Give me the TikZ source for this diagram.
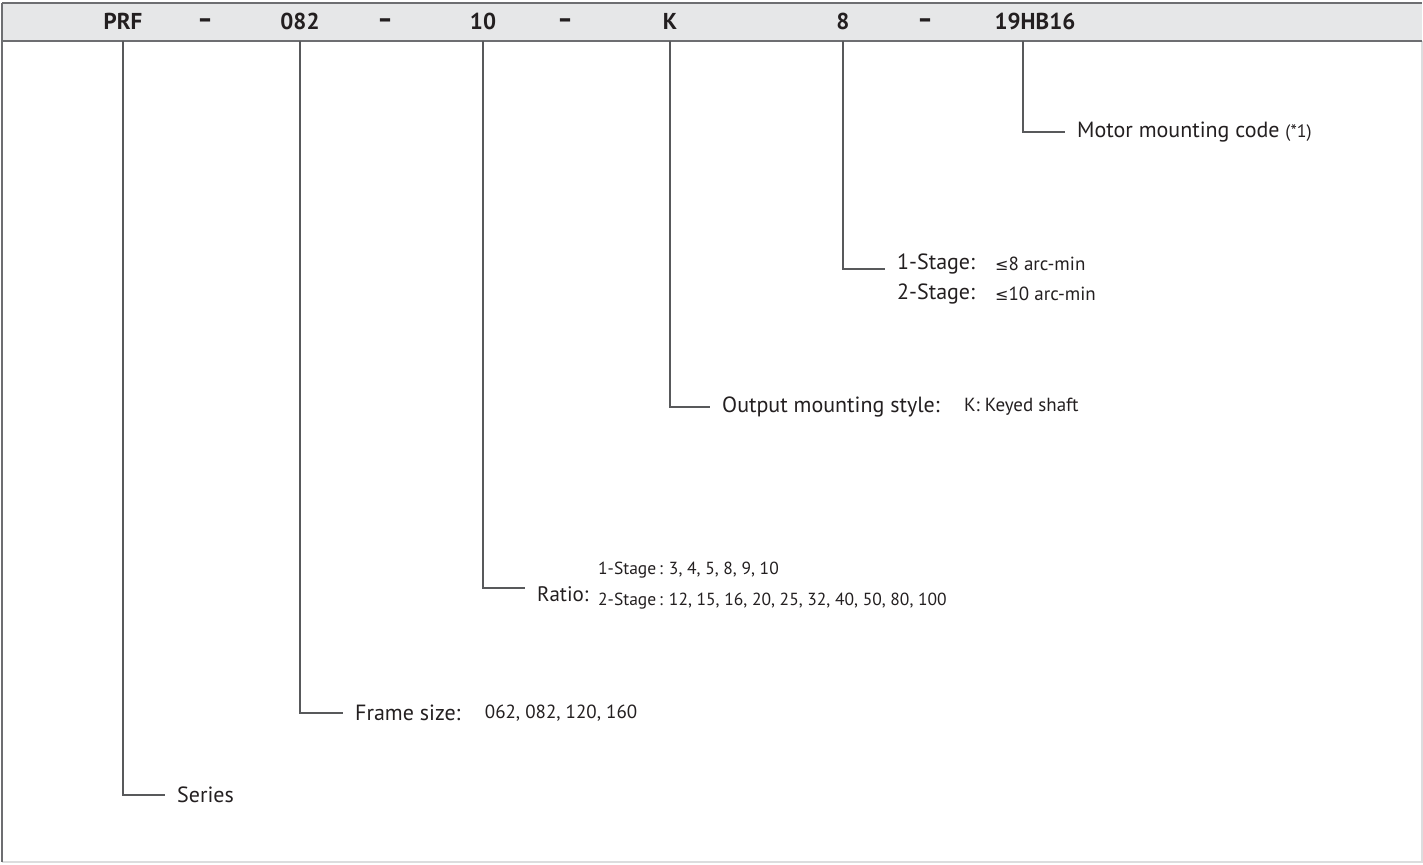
\documentclass[tikz,border=0pt]{standalone}
\usepackage{fontspec}
\setmainfont{PT Sans}
\newfontfamily\symfont{DejaVu Sans}
\usetikzlibrary{positioning}
\definecolor{bandgray}{HTML}{E6E7E8}
\definecolor{rulegray}{HTML}{6D6E71}
\definecolor{leadgray}{HTML}{58595B}
\definecolor{inkgray}{HTML}{231F20}
\definecolor{edgegray}{HTML}{DCDDDE}

\begin{document}
\begin{tikzpicture} [x=1pt, y=-1pt, text=inkgray,
                    font=\fontsize{22}{26}\selectfont,
                    code/.style={font=\fontsize{23}{27}\selectfont\bfseries, inner sep=0pt},
                    dash sep/.style={code, font=\symfont\fontsize{26}{30}\selectfont\bfseries},
                    lbl/.style={anchor=west, inner xsep=12pt, inner ysep=0pt},
                    val/.style={anchor=west, inner sep=0pt, font=\fontsize{19}{22}\selectfont},
                    lead/.style={draw=leadgray, line width=1.2pt}]

\useasboundingbox (0,0) rectangle (1423,864);

% frame and header band
\fill[bandgray] (2,3) rectangle (1422,41);
\draw[edgegray, line width=1.5pt] (1422,41) -- (1422,862) -- (2,862);
\draw[rulegray, line width=1.2pt] (2,41) -- (2,862);
\draw[rulegray, line width=2pt] (2,3) -- (1422,3) (2,41) -- (1422,41);
\draw[rulegray, line width=1.2pt] (2,3) -- (2,41);
\coordinate (bandbot) at (0,41);

% code letters
\node[code] (PRF) at (123,21) {PRF};
\node[dash sep] (d1) at (205,23) {–};
\node[code] (FS) at (300,21) {082};
\node[dash sep] (d2) at (385,23) {–};
\node[code] (RT) at (483,21) {10};
\node[dash sep] (d3) at (565,23) {–};
\node[code] (KS) at (670,21) {K};
\node[code] (BL) at (843,21) {8};
\node[dash sep] (d4) at (925,23) {–};
\node[code] (MC) at (1035,21) {19HB16};

% labels
\node[lbl] (Series) at (165,795) {Series};
\node[lbl] (Frame) at (343,713) {Frame size:};
\node[val] (FrameV) [right=12pt of Frame] {062, 082, 120, 160};
\node[lbl, font=\fontsize{21}{25}\selectfont] (Ratio) at (525,594) {Ratio:};
\node[val, font=\fontsize{17.5}{21}\selectfont] (RatioA) at (598,570) {1-Stage\,:\hspace{6pt}3, 4, 5, 8, 9, 10};
\node[val, font=\fontsize{17.5}{21}\selectfont] (RatioB) at (598,601) {2-Stage\,:\hspace{6pt}12, 15, 16, 20, 25, 32, 40, 50, 80, 100};
\node[lbl] (Output) at (710,407) {Output mounting style:};
\node[val] (OutputV) [right=12pt of Output] {K: Keyed shaft};
\node[lbl] (StageA) at (885,264) {1-Stage:};
\node[val] (StageAV) at (995,264) {{\symfont\fontsize{16}{19}\selectfont≤}8 arc-min};
\node[lbl] (StageB) at (885,294) {2-Stage:};
\node[val] (StageBV) at (995,294) {{\symfont\fontsize{16}{19}\selectfont≤}10 arc-min};
\node[lbl] (Motor) at (1065,132) {Motor mounting code {\fontsize{18}{21}\selectfont(*1)}};

% leaders
\draw[lead] (PRF |- bandbot) |- (Series.west);
\draw[lead] (FS |- bandbot) |- (Frame.west);
\draw[lead] (RT |- bandbot) |- ([yshift=6pt]Ratio.west);
\draw[lead] (KS |- bandbot) |- (Output.west);
\draw[lead] (BL |- bandbot) |- ([yshift=-5pt]StageA.west);
\draw[lead] ([xshift=-12pt]MC.south |- bandbot) |- (Motor.west);
\end{tikzpicture}
\end{document}
